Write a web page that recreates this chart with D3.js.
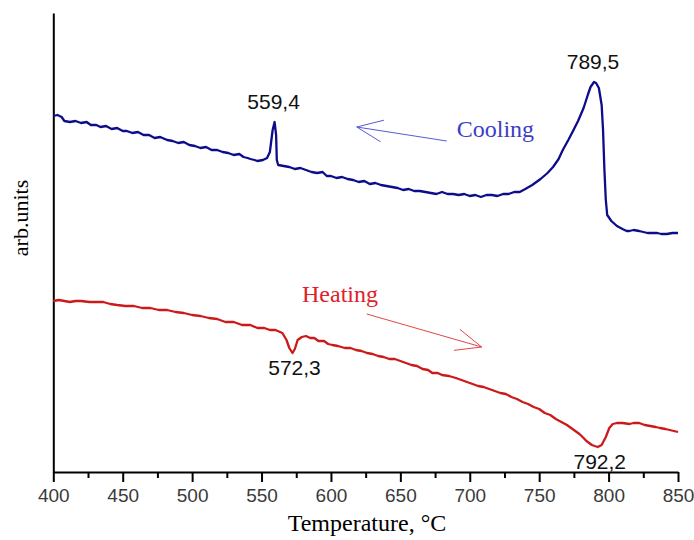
<!DOCTYPE html>
<html>
<head>
<meta charset="utf-8">
<script src="https://cdn.jsdelivr.net/npm/d3@7"></script>
<style>
  body { margin: 0; background: #fff; }
  svg { display: block; }
</style>
</head>
<body>
<div id="chart"></div>
<script>
// temperature (°C) and signal (arb. units)
var coolT = [400, 403, 406, 408, 412, 416, 420, 424, 427, 431, 434, 438, 442, 446, 450, 453, 457, 461, 465, 469, 473, 477, 482, 486, 490, 494, 498, 502,
  506, 510, 514, 518, 522, 526, 530, 534, 537, 540, 542, 545, 547, 551, 554, 556, 558, 559.4, 560.5, 561, 562,
  566, 570, 574, 578, 582, 586, 590, 594, 597, 600, 604, 608, 612, 616, 620, 624, 628, 632, 636, 640, 644, 648, 652, 656, 660, 664, 668, 672,
  676, 680, 684, 688, 692, 696, 700, 704, 708, 712, 716, 720, 724, 728, 732, 736, 740, 745, 751, 756, 760, 764, 767, 771, 774, 778,
  782, 785, 787, 789.5, 791, 793, 795, 796, 797, 798, 799, 802, 806, 810, 813, 815, 818, 822, 825, 828, 832, 835, 838, 842, 846, 850];
var coolV = [356, 357, 355, 351, 350, 351, 349, 350, 347, 347, 345, 346, 343, 344, 341, 341, 339, 340, 337, 337, 334, 335, 332, 331, 329, 330, 327, 326,
  324, 325, 322, 322, 320, 319, 317, 318, 315, 314, 313, 312, 311, 312, 314, 320, 342, 350, 337, 312, 307,
  306, 305, 303, 304, 302, 300, 299, 300, 296, 296, 294, 295, 293, 292, 290, 291, 288, 289, 287, 286, 285, 284, 282, 283, 281, 281, 280, 279,
  278, 280, 278, 278, 277, 278, 276, 277, 275, 277, 277, 276, 278, 278, 280, 280, 283, 287, 293, 299, 305, 313, 322, 332, 340, 351,
  364, 377, 385, 390, 389, 384, 367, 342, 302, 272, 257, 251, 246, 243, 241, 241, 242, 241, 240, 239, 239, 239, 238, 238, 239, 239];

var heatT = [400, 404, 408, 412, 416, 420, 426, 431, 436, 441, 446, 452, 458, 464, 470, 476, 482, 488, 494, 500, 506, 512, 518, 524, 530, 536, 542, 547,
  552, 556, 560, 565, 568, 570, 572.3, 574, 576, 579, 582, 585, 588, 591, 595, 598, 601, 605, 610, 614, 618, 622, 626, 630, 634, 638, 642, 646,
  650, 654, 658, 662, 666, 670, 673, 677, 680, 685, 690, 694, 698, 702, 706, 710, 714, 718, 722, 726, 730, 734, 738, 742, 746, 750, 754, 758,
  762, 766, 770, 773, 776, 779, 782, 784, 786, 788, 790, 792.2, 795, 798, 800.5, 803, 806, 810, 815, 818, 822, 826, 830, 834, 837, 841, 844, 847, 850];
var heatV = [171, 172, 171, 170, 171, 171, 170, 170, 170, 168, 167, 166, 166, 164, 164, 162, 162, 160, 159, 157, 156, 154, 153, 150, 150, 147, 147, 144,
  144, 142, 142, 139, 132, 124, 119, 123, 132, 135, 136, 134, 134, 131, 131, 128, 127, 126, 124, 124, 122, 121, 119, 118, 116, 115, 113, 113,
  111, 109, 107, 106, 103, 102, 99, 99, 97, 96, 94, 92, 90, 88, 86, 85, 83, 81, 79, 78, 75, 73, 70, 68, 65, 63, 59, 57,
  53, 50, 47, 44, 41, 38, 34, 31, 29, 27, 26, 25, 27, 35, 44, 48, 49, 49, 48, 49, 49, 47, 46, 45, 44, 43, 42, 41, 40];

var majorTicks = [400, 450, 500, 550, 600, 650, 700, 750, 800, 850];
var minorTicks = [425, 475, 525, 575, 625, 675, 725, 775, 825];

var coolPeaks = [559.4, 789.5];
var coolPeakLabels = ["559,4", "789,5"];
var heatPeaks = [572.3, 792.2];
var heatPeakLabels = ["572,3", "792,2"];

var W = 694, H = 540;
var svg = d3.select("#chart").append("svg")
  .attr("width", W).attr("height", H);

var x = d3.scaleLinear().domain([400, 850]).range([53.3, 678]);
var y = d3.scaleLinear().domain([0, 459]).range([472, 13]);

// axes
var xAxis = svg.append("g")
  .attr("transform", "translate(0," + y(0) + ")")
  .call(d3.axisBottom(x).tickValues(majorTicks).tickSize(10).tickSizeOuter(0).tickPadding(7));
xAxis.select(".domain").attr("stroke", "#000").attr("stroke-width", 2);
xAxis.selectAll(".tick line").attr("stroke", "#000").attr("stroke-width", 2);
xAxis.selectAll(".tick text")
  .attr("fill", "#3a3a3a")
  .style("font-family", "'Liberation Sans', Arial, sans-serif")
  .style("font-size", "19px");

var xMinor = svg.append("g")
  .attr("transform", "translate(0," + y(0) + ")")
  .call(d3.axisBottom(x).tickValues(minorTicks).tickSize(6).tickSizeOuter(0).tickFormat(""));
xMinor.select(".domain").remove();
xMinor.selectAll(".tick line").attr("stroke", "#000").attr("stroke-width", 2);

var yAxis = svg.append("g")
  .attr("transform", "translate(" + x(400) + ",0)")
  .call(d3.axisLeft(y).tickValues([]).tickSizeOuter(0));
yAxis.select(".domain").attr("stroke", "#000").attr("stroke-width", 2);

// axis titles
svg.append("text")
  .attr("x", 367).attr("y", 531)
  .attr("text-anchor", "middle")
  .style("font-family", "'Liberation Serif', 'Times New Roman', serif")
  .style("font-size", "24px")
  .text("Temperature, °C");

svg.append("text")
  .attr("transform", "translate(28,218) rotate(-90)")
  .attr("text-anchor", "middle")
  .style("font-family", "'Liberation Serif', 'Times New Roman', serif")
  .style("font-size", "22px")
  .text("arb.units");

// curves
var line = d3.line()
  .x(function(d) { return x(d[0]); })
  .y(function(d) { return y(d[1]); });

svg.append("path")
  .datum(d3.zip(coolT, coolV))
  .attr("d", line)
  .attr("fill", "none")
  .attr("stroke", "#0d0d8a")
  .attr("stroke-width", 2.3)
  .attr("stroke-linejoin", "round");

svg.append("path")
  .datum(d3.zip(heatT, heatV))
  .attr("d", line)
  .attr("fill", "none")
  .attr("stroke", "#cc1a1a")
  .attr("stroke-width", 2.3)
  .attr("stroke-linejoin", "round");

// peak labels
var peakFont = "'Liberation Sans', Arial, sans-serif";
function valueAt(ts, vs, t) { return vs[ts.indexOf(t)]; }

coolPeaks.forEach(function(t, i) {
  svg.append("text")
    .attr("x", x(t) - 1)
    .attr("y", y(valueAt(coolT, coolV, t)) - 13)
    .attr("text-anchor", "middle")
    .style("font-family", peakFont)
    .style("font-size", "21px")
    .attr("fill", "#111")
    .text(coolPeakLabels[i]);
});
heatPeaks.forEach(function(t, i) {
  svg.append("text")
    .attr("x", x(t) + 2)
    .attr("y", y(valueAt(heatT, heatV, t)) + 22)
    .attr("text-anchor", "middle")
    .style("font-family", peakFont)
    .style("font-size", "21px")
    .attr("fill", "#111")
    .text(heatPeakLabels[i]);
});

// direction arrows
function arrow(t0, v0, t1, v1, color) {
  var x0 = x(t0), y0 = y(v0), x1 = x(t1), y1 = y(v1);
  var a = Math.atan2(y1 - y0, x1 - x0);
  var len = 28, spread = 0.4;
  var g = svg.append("g").attr("stroke", color).attr("stroke-width", 1).attr("fill", "none");
  g.append("line").attr("x1", x0).attr("y1", y0).attr("x2", x1).attr("y2", y1);
  [-spread, spread].forEach(function(s) {
    g.append("line")
      .attr("x1", x1).attr("y1", y1)
      .attr("x2", x1 - len * Math.cos(a + s))
      .attr("y2", y1 - len * Math.sin(a + s));
  });
}
arrow(683.4, 331, 618.6, 345, "#5a5ad6");
arrow(625.8, 158, 708.6, 125, "#e04848");

svg.append("text")
  .attr("x", x(683.4) + 10).attr("y", 137)
  .style("font-family", "'Liberation Serif', 'Times New Roman', serif")
  .style("font-size", "24px")
  .attr("fill", "#3c3cc8")
  .text("Cooling");

svg.append("text")
  .attr("x", 302).attr("y", 302)
  .style("font-family", "'Liberation Serif', 'Times New Roman', serif")
  .style("font-size", "24px")
  .attr("fill", "#e0202a")
  .text("Heating");
</script>
</body>
</html>
